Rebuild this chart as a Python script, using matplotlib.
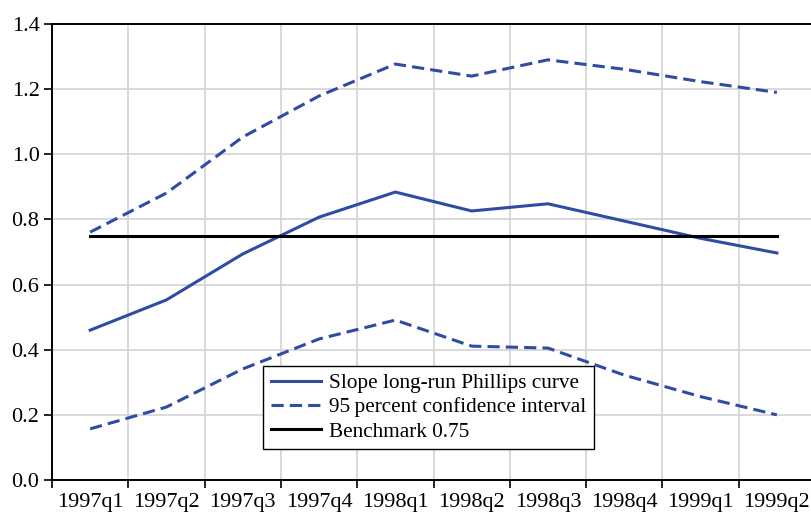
import matplotlib.pyplot as plt
import numpy as np

plt.rcParams['font.family'] = ['Liberation Serif', 'DejaVu Serif']

quarters = ["1997q1", "1997q2", "1997q3", "1997q4", "1998q1",
            "1998q2", "1998q3", "1998q4", "1999q1", "1999q2"]
slope = [0.46, 0.553, 0.694, 0.807, 0.884, 0.826, 0.848, 0.795, 0.742, 0.697]
upper = [0.761, 0.881, 1.053, 1.179, 1.277, 1.240, 1.290, 1.261, 1.223, 1.190]
lower = [0.157, 0.224, 0.341, 0.433, 0.491, 0.411, 0.405, 0.322, 0.256, 0.200]
benchmark = 0.75

blue = '#2E4CA3'
x = np.arange(len(quarters))

fig = plt.figure(figsize=(8.12, 5.14), dpi=100)
ax = fig.add_axes([52 / 812, 34 / 514, 760 / 812, 456 / 514])

ax.plot(x, slope, color=blue, lw=2.2, label='Slope long-run Phillips curve')
ax.plot(x, upper, color=blue, lw=2.2, dashes=(4, 2),
        label='95\u2009percent confidence interval')
ax.plot(x, lower, color=blue, lw=2.2, dashes=(4, 2))
ax.plot(x, [benchmark] * len(x), color='black', lw=2.2, label='Benchmark 0.75')

ax.set_xlim(-0.5, 9.46)
ax.set_ylim(0, 1.4)

# major ticks at the quarter boundaries, labels centred on the quarters
ax.set_xticks(np.arange(-0.5, 9.0, 1.0))
ax.set_xticklabels([])
ax.set_xticks(x, minor=True)
ax.set_xticklabels(quarters, minor=True)
ax.tick_params(axis='x', which='major', direction='out', length=6, width=1.2)
ax.tick_params(axis='x', which='minor', length=0, labelsize=16, pad=9)

ax.set_yticks(np.arange(0, 1.41, 0.2))
ax.set_yticklabels(['%.1f' % v for v in np.arange(0, 1.41, 0.2)])
ax.tick_params(axis='y', direction='out', length=6, width=1.2, labelsize=16, pad=3)

ax.grid(True, which='major', color='#d3d3d3', lw=1.2)
ax.set_axisbelow(True)

for side in ['left', 'bottom', 'top']:
    ax.spines[side].set_linewidth(1.4)
ax.spines['right'].set_visible(False)

leg = ax.legend(loc='lower left', bbox_to_anchor=(0.278, 0.068), fontsize=15.3,
                frameon=True, fancybox=False, framealpha=1, edgecolor='black',
                handlelength=2.35, handletextpad=0.4, borderpad=0.35,
                labelspacing=0.2, borderaxespad=0)
leg.get_frame().set_linewidth(1.0)

fig.savefig('out.png', dpi=100)
